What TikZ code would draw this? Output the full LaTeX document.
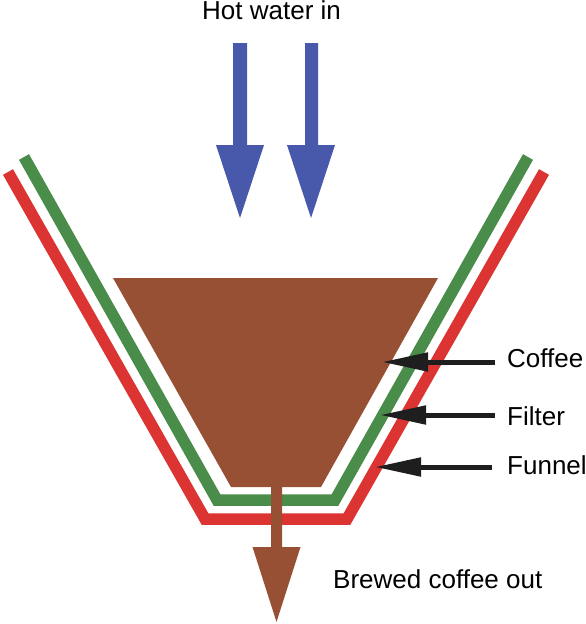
\documentclass[tikz,border=0pt]{standalone}
\usepackage{fontspec}
\setmainfont{Liberation Sans}
\usetikzlibrary{arrows.meta}
\definecolor{funnelred}{RGB}{220,52,50}
\definecolor{filtergreen}{RGB}{74,140,74}
\definecolor{coffeebrown}{RGB}{152,80,52}
\definecolor{waterblue}{RGB}{72,88,170}
\definecolor{pointer}{RGB}{30,30,30}
\tikzset{
  band/.style={line width=11.5pt, line join=miter, line cap=butt},
  lbl/.style={anchor=base west, inner sep=0pt, font=\fontsize{26}{31}\selectfont},
  pointarrow/.style={draw=pointer, line width=5pt, -{Triangle[length=46pt,width=18pt]}}
}
\begin{document}
\begin{tikzpicture}[x=1pt,y=-1pt]
\useasboundingbox (0,0) rectangle (586,624);
% funnel and filter
\draw[band, funnelred] (8,172) -- (205,519) -- (347,519) -- (544,172);
\draw[band, filtergreen] (24,157) -- (217,500) -- (335,500) -- (528,157);
% coffee grounds
\fill[coffeebrown] (113,278) -- (438,278) -- (321,487) -- (231,487) -- cycle;
% outflow arrow
\fill[coffeebrown] (271,480) -- (282,480) -- (282,547) -- (300.5,547) -- (276.5,622)
  -- (252.5,547) -- (271,547) -- cycle;
% hot water arrows
\fill[waterblue] (233,43) -- (247,43) -- (247,145) -- (264,145) -- (240,218)
  -- (216,145) -- (233,145) -- cycle;
\fill[waterblue] (305,43) -- (318,43) -- (318,145) -- (335,145) -- (311,218)
  -- (287,145) -- (305,145) -- cycle;
% labels
\node[lbl] (hot) at (202,19) {Hot water in};
\node[lbl] (brew) at (333,588) {Brewed coffee out};
\node[lbl] (coffee) at (507,367) {Coffee};
\node[lbl] (filter) at (507,425) {Filter};
\node[lbl] (funnel) at (507,474) {Funnel};
% pointer arrows
\coordinate (cofftip) at (382,362);
\coordinate (filttip) at (380,415);
\coordinate (funtip) at (375,467);
\draw[pointarrow] (495,362) -- (cofftip);
\draw[pointarrow] (495,415) -- (filttip);
\draw[pointarrow] (492,467) -- (funtip);
\end{tikzpicture}
\end{document}
